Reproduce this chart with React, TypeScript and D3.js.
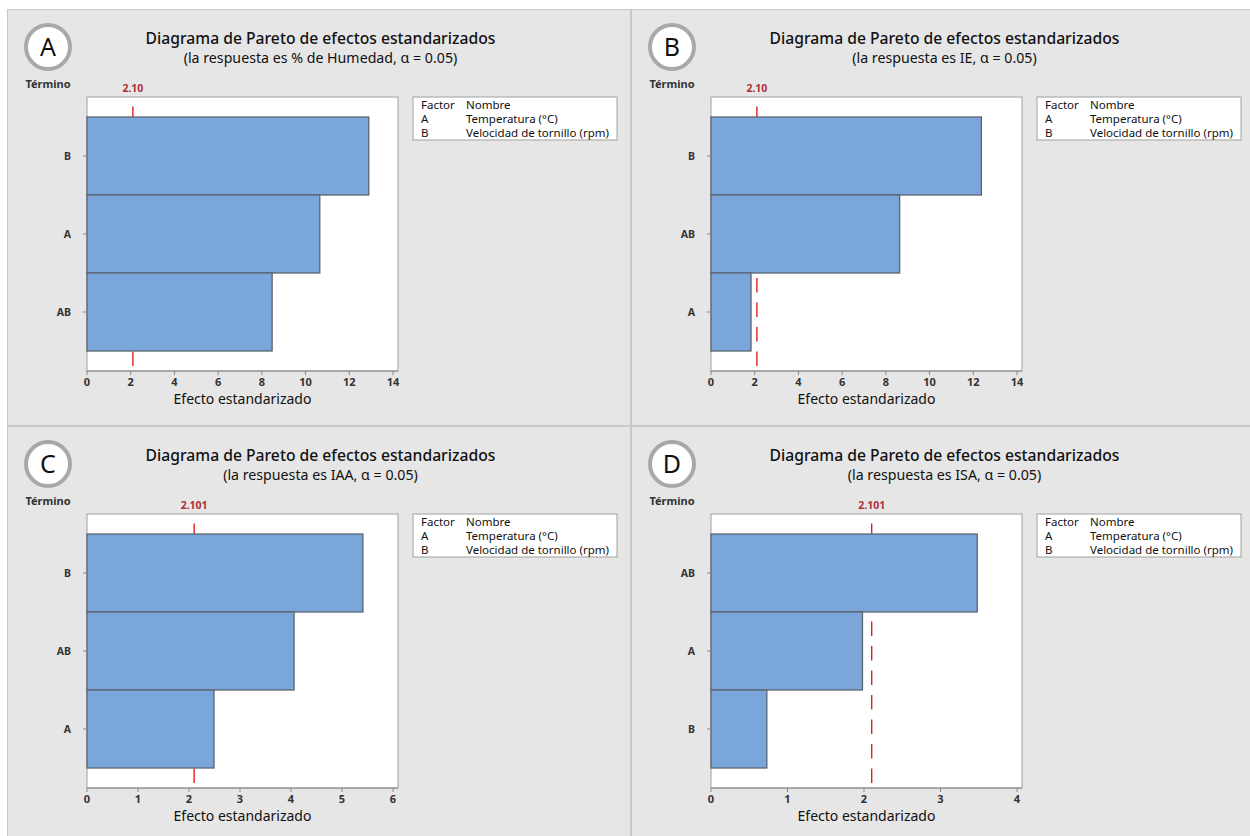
import React from "react";
import * as d3 from "d3";

const panelLetters = ["A", "B", "C", "D"];
const titleText = "Diagrama de Pareto de efectos estandarizados";
const subtitles = [
  "(la respuesta es % de Humedad, α = 0.05)",
  "(la respuesta es IE, α = 0.05)",
  "(la respuesta es IAA, α = 0.05)",
  "(la respuesta es ISA, α = 0.05)",
];
const termsA = ["B", "A", "AB"];
const valuesA = [12.89, 10.65, 8.47];
const termsB = ["B", "AB", "A"];
const valuesB = [12.37, 8.63, 1.83];
const termsC = ["B", "AB", "A"];
const valuesC = [5.41, 4.06, 2.49];
const termsD = ["AB", "A", "B"];
const valuesD = [3.48, 1.98, 0.73];
const refLabels = ["2.10", "2.10", "2.101", "2.101"];
const refValues = [2.1, 2.1, 2.101, 2.101];
const xTicksAB = [0, 2, 4, 6, 8, 10, 12, 14];
const xTicksC = [0, 1, 2, 3, 4, 5, 6];
const xTicksD = [0, 1, 2, 3, 4];
const legendFactors = ["A", "B"];
const legendNames = ["Temperatura (°C)", "Velocidad de tornillo (rpm)"];

const allTerms = [termsA, termsB, termsC, termsD];
const allValues = [valuesA, valuesB, valuesC, valuesD];
const allTicks = [xTicksAB, xTicksAB, xTicksC, xTicksD];

const FONT = "'Noto Sans', 'Open Sans', sans-serif";

const panels = [
  { x: 8, y: 10, w: 622, h: 415 },
  { x: 632, y: 10, w: 618, h: 415 },
  { x: 8, y: 427, w: 622, h: 409 },
  { x: 632, y: 427, w: 618, h: 409 },
];

function Panel({ i }: { i: number }) {
  const p = panels[i];
  const left = 79;
  const top = 87;
  const width = 311;
  const height = 274;
  const ticks = allTicks[i];
  const tmax = ticks[ticks.length - 1];
  const x = d3.scaleLinear().domain([0, tmax]).range([left, left + 306]);
  const terms = allTerms[i];
  const vals = allValues[i];
  const y = d3
    .scaleBand<string>()
    .domain(terms)
    .range([top + 20, top + height - 20])
    .padding(0);
  const rx = x(refValues[i]);
  const bottom = top + height;
  const lx = 405;
  const lfs = 11.5;
  return (
    <g transform={`translate(${p.x},${p.y})`}>
      <rect x={0} y={0} width={p.w} height={p.h} fill="#e6e6e6" />
      <circle cx={40} cy={37} r={22} fill="#ffffff" stroke="#a8a8a8" strokeWidth={4} />
      <text x={40} y={46} textAnchor="middle" fontSize={25} fontFamily={FONT} fill="#111">
        {panelLetters[i]}
      </text>
      <text x={40} y={78} textAnchor="middle" fontSize={11} fontWeight="bold" fontFamily={FONT} fill="#333">
        Término
      </text>
      <text x={left + width / 2 + 78} y={34} textAnchor="middle" fontSize={15.7} fontWeight={500} fontFamily={FONT} fill="#111">
        {titleText}
      </text>
      <text x={left + width / 2 + 78} y={53} textAnchor="middle" fontSize={14.2} fontFamily={FONT} fill="#111">
        {subtitles[i]}
      </text>
      <rect x={left} y={top} width={width} height={height} fill="#ffffff" stroke="#a0a0a0" strokeWidth={1} />
      <line
        x1={rx}
        x2={rx}
        y1={bottom - 5}
        y2={top}
        stroke="#e01010"
        strokeWidth={1.3}
        strokeDasharray="14.5,10"
      />
      {terms.map((t, k) => (
        <rect
          key={t}
          x={x(0)}
          y={y(t)!}
          width={x(vals[k]) - x(0)}
          height={y.bandwidth()}
          fill="#7ba6d9"
          stroke="#5b6570"
          strokeWidth={1.3}
        />
      ))}
      {terms.map((t) => (
        <g key={"yt" + t}>
          <line x1={left - 4} x2={left} y1={y(t)! + y.bandwidth() / 2} y2={y(t)! + y.bandwidth() / 2} stroke="#888" />
          <text
            x={left - 16}
            y={y(t)! + y.bandwidth() / 2 + 4}
            textAnchor="end"
            fontSize={10.5}
            fontWeight="bold"
            fontFamily={FONT}
            fill="#333"
          >
            {t}
          </text>
        </g>
      ))}
      <line x1={left} x2={left + width} y1={bottom} y2={bottom} stroke="#888" />
      {ticks.map((tv) => (
        <g key={"xt" + tv}>
          <line x1={x(tv)} x2={x(tv)} y1={bottom} y2={bottom + 4} stroke="#888" />
          <text x={x(tv)} y={bottom + 15} textAnchor="middle" fontSize={11} fontWeight="bold" fontFamily={FONT} fill="#333">
            {tv}
          </text>
        </g>
      ))}
      <text x={left + width / 2} y={bottom + 33} textAnchor="middle" fontSize={14} fontFamily={FONT} fill="#111">
        Efecto estandarizado
      </text>
      <text x={rx} y={top - 5} textAnchor="middle" fontSize={10.5} fontWeight="bold" fontFamily={FONT} fill="#b0303a">
        {refLabels[i]}
      </text>
      <rect x={lx} y={87} width={204} height={43} fill="#ffffff" stroke="#a0a0a0" />
      <text x={lx + 8} y={99} fontSize={lfs} fontFamily={FONT} fill="#111">
        Factor
      </text>
      <text x={lx + 53} y={99} fontSize={lfs} fontFamily={FONT} fill="#111">
        Nombre
      </text>
      {legendFactors.map((f, k) => (
        <g key={"lg" + f}>
          <text x={lx + 8} y={113 + k * 14} fontSize={lfs} fontFamily={FONT} fill="#111">
            {f}
          </text>
          <text x={lx + 53} y={113 + k * 14} fontSize={lfs} fontFamily={FONT} fill="#111">
            {legendNames[k]}
          </text>
        </g>
      ))}
    </g>
  );
}

export default function App() {
  return (
    <svg
      width={1250}
      height={836}
      style={{ position: "absolute", left: 0, top: 0, display: "block" }}
    >
      <rect x={0} y={0} width={1250} height={836} fill="#ffffff" />
      <rect x={7} y={9} width={1243} height={827} fill="#c8c8c8" />
      {panels.map((_, i) => (
        <Panel key={i} i={i} />
      ))}
    </svg>
  );
}
